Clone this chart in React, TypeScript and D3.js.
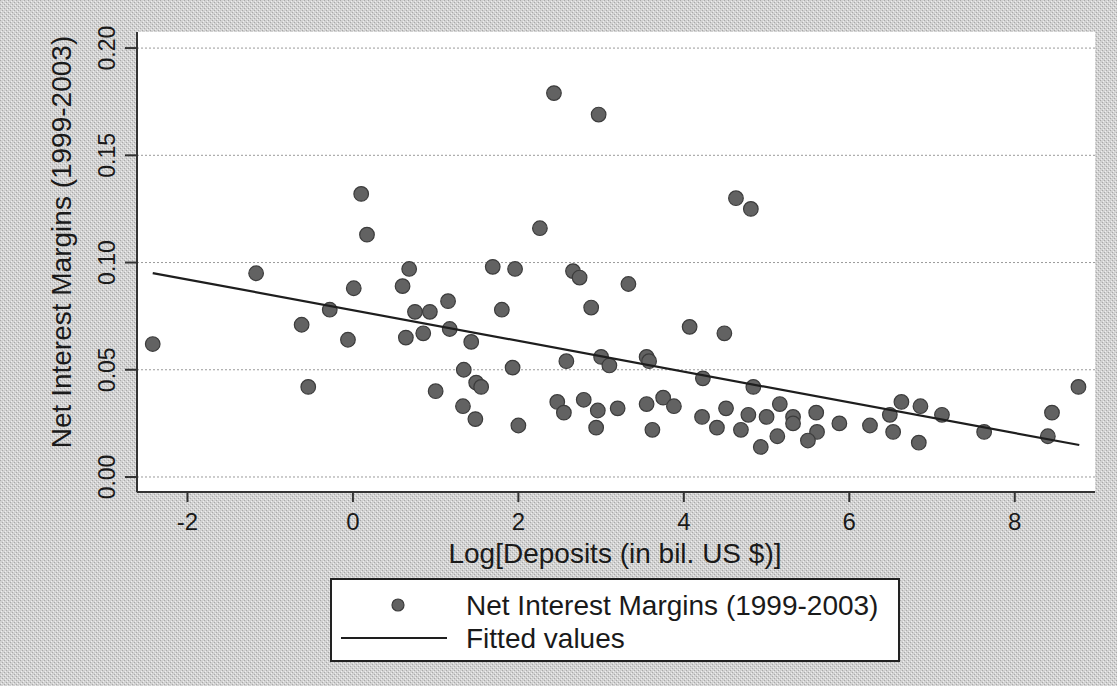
import React from "react";
import * as d3 from "d3";

// log deposits (x) and net interest margin (y)
const logDeposits = [
  0.1, 0.17, 2.43, 2.97, 4.63, 4.81, 2.26,
  -2.42, -1.17, 0.01, -0.28, -0.62, -0.06, -0.54,
  0.68, 0.6, 1.69, 1.96, 2.66, 2.74, 3.33, 1.15, 0.75, 0.93, 1.8, 2.88,
  0.64, 0.85, 1.17, 1.43, 4.07, 4.49, 2.58, 3.0, 3.1, 3.55, 3.58, 1.34,
  1.93, 4.23, 4.84, 1.0, 1.49, 1.55, 1.33, 1.48, 2.0, 2.47, 2.55, 2.79,
  2.96, 3.2, 2.94, 3.55, 3.75, 3.88, 3.62, 4.22, 4.51, 4.78, 5.0, 4.4,
  4.69, 5.16, 4.93, 5.13,
  5.32, 5.32, 5.6, 5.61, 5.5, 5.88, 6.25, 6.49, 6.63, 6.86, 6.53, 6.84,
  7.12, 7.63, 8.45, 8.4, 8.77,
];
const netMargins = [
  0.132, 0.113, 0.179, 0.169, 0.13, 0.125, 0.116,
  0.062, 0.095, 0.088, 0.078, 0.071, 0.064, 0.042,
  0.097, 0.089, 0.098, 0.097, 0.096, 0.093, 0.09, 0.082, 0.077, 0.077, 0.078, 0.079,
  0.065, 0.067, 0.069, 0.063, 0.07, 0.067, 0.054, 0.056, 0.052, 0.056, 0.054, 0.05,
  0.051, 0.046, 0.042, 0.04, 0.044, 0.042, 0.033, 0.027, 0.024, 0.035, 0.03, 0.036,
  0.031, 0.032, 0.023, 0.034, 0.037, 0.033, 0.022, 0.028, 0.032, 0.029, 0.028, 0.023,
  0.022, 0.034, 0.014, 0.019,
  0.028, 0.025, 0.03, 0.021, 0.017, 0.025, 0.024, 0.029, 0.035, 0.033, 0.021, 0.016,
  0.029, 0.021, 0.03, 0.019, 0.042,
];

// fitted line end points
const fittedX = [-2.42, 8.78];
const fittedY = [0.0951, 0.0149];

const xTicks = [-2, 0, 2, 4, 6, 8];
const yTicks = [0, 0.05, 0.1, 0.15, 0.2];

const W = 1117;
const H = 686;
const left = 137;
const right = 1095;
const top = 32;
const bottom = 492;

export default function App() {
  const x = d3.scaleLinear().domain([-2.61, 8.97]).range([left, right]);
  const y = d3.scaleLinear().domain([-0.007, 0.2075]).range([bottom, top]);

  const fitLine = d3
    .line<number>()
    .x((d, i) => x(fittedX[i]))
    .y((d) => y(d))(fittedY);

  const font = "'Liberation Sans', Arial, sans-serif";

  return (
    <svg
      width={W}
      height={H}
      viewBox={`0 0 ${W} ${H}`}
      style={{ position: "absolute", left: 0, top: 0 }}
      fontFamily={font}
    >
      <defs>
        <pattern id="scan" width="4" height="4" patternUnits="userSpaceOnUse">
          <rect width="4" height="4" fill="#d2d2d2" />
          <rect x="0" y="0" width="1" height="1" fill="#a9a9a9" />
          <rect x="2" y="2" width="1" height="1" fill="#a9a9a9" />
          <rect x="1" y="3" width="1" height="1" fill="#efefef" />
          <rect x="3" y="1" width="1" height="1" fill="#efefef" />
        </pattern>
      </defs>
      <rect width={W} height={H} fill="url(#scan)" />
      <rect x={left} y={top} width={right - left} height={bottom - top} fill="#fff" />

      {/* grid */}
      {yTicks.map((t) => (
        <line
          key={"g" + t}
          x1={left}
          x2={right}
          y1={y(t)}
          y2={y(t)}
          stroke="#9a9a9a"
          strokeWidth={1}
          strokeDasharray="2,2"
        />
      ))}

      {/* points */}
      <g fill="#626262" stroke="#3c3c3c" strokeWidth={1.2}>
        {logDeposits.map((d, i) => (
          <circle key={i} cx={x(d)} cy={y(netMargins[i])} r={7.3} />
        ))}
      </g>

      <path d={fitLine || ""} fill="none" stroke="#1e1e1e" strokeWidth={2.2} />

      {/* axes */}
      <line x1={left} x2={left} y1={top} y2={bottom} stroke="#333" strokeWidth={2} />
      <line x1={left} x2={right} y1={bottom} y2={bottom} stroke="#333" strokeWidth={2} />
      {yTicks.map((t) => (
        <g key={"y" + t} transform={`translate(${left},${y(t)})`}>
          <line x1={-12} x2={0} stroke="#333" strokeWidth={2} />
          <text
            transform="rotate(-90)"
            x={0}
            y={-22}
            textAnchor="middle"
            fontSize={23}
            fill="#1a1a1a"
          >
            {d3.format(".2f")(t)}
          </text>
        </g>
      ))}
      {xTicks.map((t) => (
        <g key={"x" + t} transform={`translate(${x(t)},${bottom})`}>
          <line y1={0} y2={10} stroke="#333" strokeWidth={2} />
          <text y={38} textAnchor="middle" fontSize={24} fill="#1a1a1a">
            {t}
          </text>
        </g>
      ))}

      <text
        transform="translate(61,242) rotate(-90)"
        textAnchor="middle"
        dominantBaseline="central"
        fontSize={28}
        fill="#1a1a1a"
      >
        Net Interest Margins (1999-2003)
      </text>
      <text x={615} y={563} textAnchor="middle" fontSize={28} fill="#1a1a1a">
        Log[Deposits (in bil. US $)]
      </text>

      {/* legend */}
      <rect x={331} y={579} width={568} height={82} fill="#fff" stroke="#222" strokeWidth={2} />
      <circle cx={398} cy={605} r={6} fill="#626262" stroke="#3c3c3c" strokeWidth={1.2} />
      <line x1={341} x2={447} y1={638} y2={638} stroke="#1e1e1e" strokeWidth={2} />
      <text x={466} y={605} dominantBaseline="central" fontSize={28} fill="#1a1a1a">
        Net Interest Margins (1999-2003)
      </text>
      <text x={466} y={638} dominantBaseline="central" fontSize={28} fill="#1a1a1a">
        Fitted values
      </text>
    </svg>
  );
}
